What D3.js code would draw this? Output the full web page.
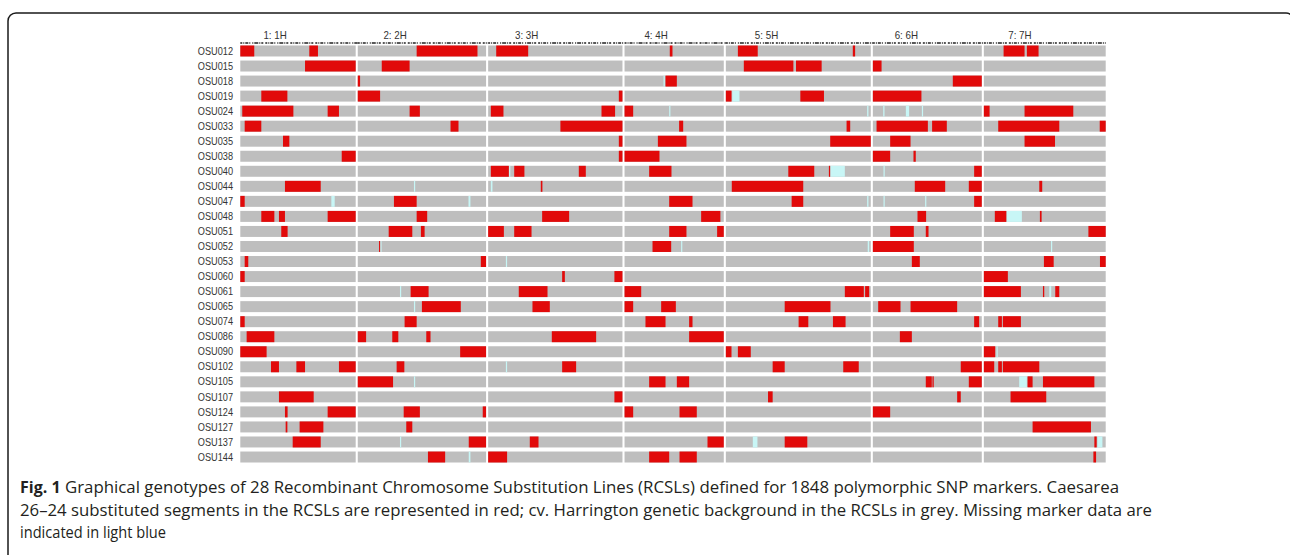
<!DOCTYPE html>
<html>
<head>
<meta charset="utf-8">
<script src="https://cdn.jsdelivr.net/npm/d3@7"></script>
<style>
  body { margin: 0; background: #fff; }
</style>
</head>
<body>
<div id="app"></div>
<script>
// chromosomes and how many SNP markers each one carries (1848 in total)
const chromosomes = ['1: 1H', '2: 2H', '3: 3H', '4: 4H', '5: 5H', '6: 6H', '7: 7H'];
const markerCounts = [250, 278, 291, 215, 314, 236, 264];

const lines = ['OSU012', 'OSU015', 'OSU018', 'OSU019', 'OSU024', 'OSU033', 'OSU035',
  'OSU038', 'OSU040', 'OSU044', 'OSU047', 'OSU048', 'OSU051', 'OSU052', 'OSU053',
  'OSU060', 'OSU061', 'OSU065', 'OSU074', 'OSU086', 'OSU090', 'OSU102', 'OSU105',
  'OSU107', 'OSU124', 'OSU127', 'OSU137', 'OSU144'];

// Caesarea 26-24 segments per line: [chromosome index, start %, end %] of chromosome length
const donorSegments = [
  [[0,0,12.1],[0,59.8,67.3],[1,45.9,93.3],[2,6.0,29.8],[3,45.6,48.3],[4,8.3,22.0],[4,87.6,89.2],[6,16.2,33.4],[6,35.3,44.9]],
  [[0,56.1,100],[1,18.7,40.4],[4,12.4,46.6],[4,48.4,66.1],[5,0,8.0]],
  [[1,0,1.8],[3,41.3,52.7],[5,73.4,100]],
  [[0,18.2,40.8],[1,0,17.4],[2,97.3,100],[4,0,3.9],[4,51.4,67.7],[5,0,44.6]],
  [[0,1.7,46.0],[0,75.7,85.5],[1,40.4,48.4],[2,2.0,11.4],[2,84.4,94.5],[3,0,8.7],[6,0,4.7],[6,33.4,73.4]],
  [[0,3.8,18.2],[1,72.3,78.5],[2,53.8,100],[3,55.0,59.1],[4,83.3,85.8],[5,3.4,50.5],[5,54.4,67.9],[6,11.8,61.9],[6,95.1,100]],
  [[0,37.0,42.5],[2,97.3,100],[3,33.6,62.4],[4,72.0,100],[5,15.9,34.6],[6,33.4,58.4]],
  [[0,87.9,100],[2,97.3,100],[3,0,35.2],[5,0,15.9],[5,37.3,39.4]],
  [[2,2.0,15.4],[2,19.4,27.0],[2,67.5,72.7],[3,24.8,47.3],[4,43.1,61.0],[4,71.1,71.8],[5,93.0,100]],
  [[0,38.7,69.7],[2,39.2,40.4],[4,4.1,53.4],[5,38.5,66.4],[5,88.1,100],[6,45.5,47.9]],
  [[0,0,3.8],[1,28.2,45.9],[3,45.0,68.5],[4,45.4,53.4],[5,93.0,100]],
  [[0,18.2,29.5],[0,33.5,38.7],[0,75.7,100],[1,45.9,54.1],[2,40.2,60.3],[3,77.2,96.6],[5,41.0,48.9],[6,9.0,18.4],[6,46.0,47.4]],
  [[0,35.5,41.0],[1,24.1,42.5],[1,49.2,52.1],[2,0,11.7],[2,19.4,32.3],[3,45.0,62.4],[3,93.3,100],[5,15.9,37.6],[5,48.6,51.1],[6,85.8,100]],
  [[1,16.6,17.4],[3,28.2,47.0],[5,0,37.6]],
  [[0,3.8,6.9],[1,95.9,100],[5,35.8,43.1],[6,49.3,57.3],[6,95.3,100]],
  [[0,0,3.8],[2,55.1,57.1],[2,94.0,100],[6,0,19.7]],
  [[1,41.2,55.2],[2,22.8,44.2],[3,0,16.8],[4,82.1,95.2],[4,96.1,98.9],[6,0,30.4],[6,48.5,49.3],[6,58.6,61.9]],
  [[1,50.0,80.3],[2,33.0,45.9],[3,0,8.7],[3,36.9,51.7],[4,40.6,72.2],[5,4.9,25.4],[5,34.6,77.4]],
  [[0,0,3.8],[1,36.5,45.9],[3,21.1,41.3],[3,65.1,68.5],[4,50.2,56.9],[4,73.9,82.6],[5,93.0,97.6],[6,11.8,14.8],[6,15.6,30.4]],
  [[0,5.5,29.5],[1,0,6.5],[1,26.9,31.6],[1,53.4,56.7],[2,47.4,80.4],[3,65.1,100],[5,24.8,35.8]],
  [[0,0,22.8],[1,79.8,100],[4,0,3.9],[4,8.3,17.2],[6,0,9.3]],
  [[0,26.6,33.5],[0,48.6,56.1],[0,85.5,100],[1,30.3,36.3],[2,55.1,65.5],[4,32.3,40.6],[4,81.0,91.7],[5,80.7,100],[6,0,8.5],[6,11.8,14.8],[6,15.6,45.5]],
  [[1,0,27.5],[3,24.8,41.3],[3,52.7,65.1],[5,48.6,54.1],[5,54.7,55.7],[5,88.1,100],[6,35.9,40.0],[6,48.5,90.7]],
  [[0,33.5,63.6],[2,94.0,100],[4,29.1,32.3],[5,77.4,80.7],[6,21.9,51.2]],
  [[0,38.7,41.0],[0,75.7,100],[1,35.8,48.4],[1,97.4,100],[3,0,8.7],[3,55.4,72.8],[5,0,15.9]],
  [[0,39.3,40.8],[0,51.4,72.0],[1,37.8,42.5],[6,40.0,87.9]],
  [[0,45.4,69.7],[1,86.5,100],[2,31.0,37.5],[3,83.6,100],[4,40.6,56.2],[6,90.7,92.6]],
  [[1,54.7,68.1],[2,0,14.1],[3,24.8,45.0],[3,55.4,72.8],[6,89.9,92.1]]
];

// missing marker data per line, same layout
const missingSegments = [
  [], [], [[3,39.3,40.6]], [[4,4.4,9.4]],
  [[3,45.0,45.6],[4,97.5,98.4],[5,9.5,10.7],[5,30.3,33.3],[5,45.0,45.8]],
  [], [], [],
  [[2,15.6,16.4],[4,72.2,82.1],[5,9.8,10.7]],
  [[1,43.8,44.6],[2,2.0,3.2]],
  [[0,78.9,81.8],[1,86.3,87.8],[4,97.5,98.4],[5,9.8,10.7],[5,48.0,48.9]],
  [[6,18.9,31.2]],
  [],
  [[1,17.6,18.4],[3,57.0,57.7],[4,97.9,98.9],[6,55.1,55.9]],
  [[2,13.2,13.9]],
  [],
  [[1,32.9,33.7],[6,53.7,55.3]],
  [[1,43.8,44.6]],
  [], [],
  [[6,10.4,11.0]],
  [[2,13.2,13.9]],
  [[1,43.8,44.6],[6,29.0,35.3]],
  [], [], [],
  [[1,32.9,33.7],[4,18.6,21.8],[6,93.2,97.3]],
  [[1,86.5,87.8]]
];

const captionLines = [
  ['Fig. 1', ' Graphical genotypes of 28 Recombinant Chromosome Substitution Lines (RCSLs) defined for 1848 polymorphic SNP markers. Caesarea'],
  ['', '26\u201324 substituted segments in the RCSLs are represented in red; cv. Harrington genetic background in the RCSLs in grey. Missing marker data are'],
  ['', 'indicated in light blue']
];

const WIDTH = 1290, HEIGHT = 555;
const GAP = 4.5;               // white gap between chromosomes, in marker units
const RED = '#e10a0a', GREY = '#bebebe', BLUE = '#c8f6f6';

const svg = d3.select('#app')
  .append('svg')
    .attr('width', WIDTH)
    .attr('height', HEIGHT)
    .style('display', 'block');

// rounded figure frame
svg.append('rect')
  .attr('x', 8).attr('y', 13)
  .attr('width', 1286).attr('height', 600)
  .attr('rx', 8)
  .attr('fill', 'none')
  .attr('stroke', '#1a1a1a')
  .attr('stroke-width', 1.5);

// cumulative start of each chromosome along the marker axis
let acc = 0;
const starts = markerCounts.map(n => { const s = acc; acc += n + GAP; return s; });
const total = acc - GAP;

const x = d3.scaleLinear()
  .domain([0, total])
  .range([240.3, 1105.7]);

const y = d3.scaleBand()
  .domain(lines)
  .range([45.5, 462.5])
  .paddingInner(0.27);

const pos = (c, p) => x(starts[c] + markerCounts[c] * p / 100);

// squeeze text a little, the original type is narrow
const condense = k => function() {
  const w = this.getComputedTextLength();
  d3.select(this).attr('textLength', w * k).attr('lengthAdjust', 'spacingAndGlyphs');
};

// marker rug along the top
svg.selectAll('.rug')
  .data(chromosomes)
  .enter()
  .append('line')
    .attr('x1', (d, i) => pos(i, 0))
    .attr('x2', (d, i) => pos(i, 100) + (i < 6 ? 2 : 0))
    .attr('y1', 43).attr('y2', 43)
    .attr('stroke', '#222')
    .attr('stroke-width', 1.6)
    .attr('stroke-dasharray', '2 1 1 1 3 1 1 2 1 1 4 1 1 1 2 2');

// chromosome labels
svg.selectAll('.chrom')
  .data(chromosomes)
  .enter()
  .append('text')
    .attr('x', (d, i) => pos(i, 20))
    .attr('y', 39)
    .attr('font-family', 'Liberation Sans, Arial, sans-serif')
    .attr('font-size', 11.5)
    .attr('fill', '#333')
    .text(d => d)
    .each(condense(0.85));

// grey background bars
const rows = svg.selectAll('.row')
  .data(lines)
  .enter()
  .append('g')
    .attr('transform', d => `translate(0,${y(d)})`);

rows.selectAll('.chr')
  .data(chromosomes.map((c, i) => i))
  .enter()
  .append('rect')
    .attr('x', c => pos(c, 0))
    .attr('width', c => pos(c, 100) - pos(c, 0))
    .attr('height', y.bandwidth())
    .attr('fill', GREY);

rows.selectAll('.donor')
  .data((d, i) => donorSegments[i])
  .enter()
  .append('rect')
    .attr('x', s => pos(s[0], s[1]))
    .attr('width', s => Math.max(1.3, pos(s[0], s[2]) - pos(s[0], s[1])))
    .attr('height', y.bandwidth())
    .attr('fill', RED);

rows.selectAll('.missing')
  .data((d, i) => missingSegments[i])
  .enter()
  .append('rect')
    .attr('x', s => pos(s[0], s[1]))
    .attr('width', s => Math.max(1.2, pos(s[0], s[2]) - pos(s[0], s[1])))
    .attr('height', y.bandwidth())
    .attr('fill', BLUE);

// line names
rows.append('text')
  .attr('x', 233)
  .attr('y', y.bandwidth() / 2)
  .attr('dy', '0.36em')
  .attr('text-anchor', 'end')
  .attr('font-family', 'Liberation Sans, Arial, sans-serif')
  .attr('font-size', 10.2)
  .attr('fill', '#333')
  .text(d => d)
  .each(condense(0.9));

// caption: each line stretched to the width it has in the figure
const captionRight = [1119, 1152, 166];
captionLines.forEach((parts, i) => {
  const t = svg.append('text')
    .attr('x', 20)
    .attr('y', 492.7 + i * 22.8)
    .attr('font-family', 'Open Sans, Noto Sans, sans-serif')
    .attr('font-size', 16)
    .attr('fill', '#231f20');
  let used = 0;
  if (parts[0]) {
    const b = t.append('tspan').attr('font-weight', 'bold').text(parts[0]);
    used = b.node().getComputedTextLength();
  }
  t.append('tspan')
    .text(parts[1])
    .attr('textLength', captionRight[i] - 20 - used)
    .attr('lengthAdjust', 'spacingAndGlyphs');
});
</script>
</body>
</html>
